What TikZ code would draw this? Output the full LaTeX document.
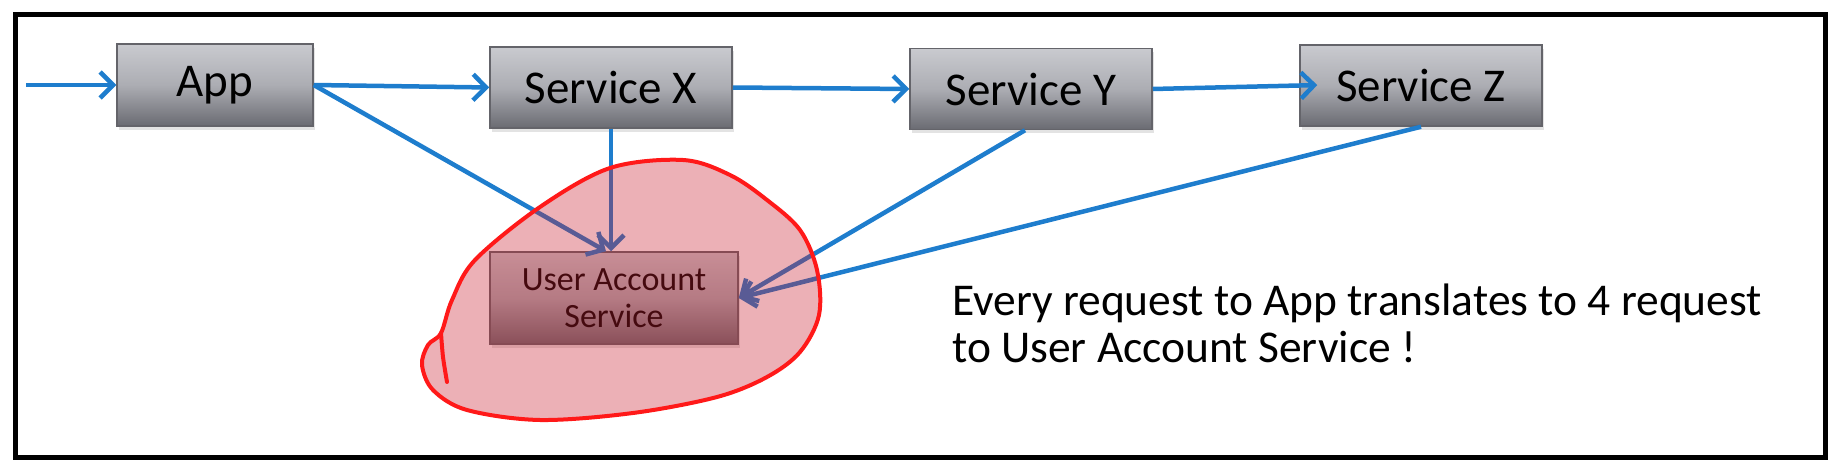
\documentclass[tikz,border=0pt]{standalone}
\usepackage{fontspec}
\setmainfont{Carlito}
\usepackage{tikz}
\usetikzlibrary{arrows.meta,shadows}

\definecolor{linkblue}{RGB}{30,125,205}
\definecolor{boxtop}{RGB}{201,202,207}
\definecolor{boxmid}{RGB}{172,173,179}
\definecolor{boxbot}{RGB}{106,107,114}
\definecolor{boxline}{RGB}{100,100,106}
\definecolor{blobfill}{RGB}{200,30,45}
\definecolor{blobline}{RGB}{255,25,25}

\begin{document}
\begin{tikzpicture}[x=1pt, y=-1pt,
		svcbox/.style={rectangle, draw=boxline, line width=1.5pt, inner sep=0pt,
			top color=boxtop, bottom color=boxbot, middle color=boxmid,
			drop shadow={shadow xshift=2pt, shadow yshift=-4pt, opacity=0.22},
			font=\fontsize{47}{47}\selectfont, minimum width=242pt, minimum height=81pt},
		conn/.style={linkblue, line width=4.5pt,
			-{Straight Barb[length=13pt, width=26pt, line width=4.5pt]}},
		blob/.style={draw=blobline, line width=4pt, fill=blobfill, fill opacity=0.35,
			line join=round, line cap=round}]
			\useasboundingbox (0,0) rectangle (1838,476);
			\draw[line width=5pt] (15,15) rectangle (1825,457);

			\begin{scope}
				\coordinate (src) at (26,85);
				\node[svcbox, minimum width=196pt, minimum height=82pt] (app) at (215,85) {App};
				\node[svcbox] (svcx) at (611,87.5) {Service X};
				\node[svcbox] (svcy) at (1031,89) {Service Y};
				\node[svcbox] (svcz) at (1421,85.5) {Service Z};
				\node[svcbox, minimum width=248pt, minimum height=92pt, align=center,
					font=\fontsize{34}{37}\selectfont] (uas) at (614,298) {User Account\\Service};

				\draw[conn] (src) -- (app.west); % da fuori a App
				\draw[conn] (app.east) -- ([xshift=-8pt]uas.north); % da App a UAS
				\draw[conn] (app.east) -- (svcx.west); % da App a X
				\draw[conn] (svcx.south) -- (svcx.south |- uas.north); % da X a UAS
				\draw[conn] (svcx.east) -- (svcy.west); % da X a Y
				\draw[conn, shorten >=-18pt] (svcy.east) -- (svcz.west); % da Y a Z
				\draw[conn] ([xshift=-6pt]svcy.south) -- (uas.east); % da Y a UAS
				\draw[conn] (svcz.south) -- (uas.east); % da Z a UAS
			\end{scope}

			% cerchio a mano
			\draw[blob] plot[smooth cycle, tension=0.55] coordinates {(540,207) (610,168)
				(683,160) (730,175) (767,200) (800,230) (817,270)
				(819,315) (800,352) (767,377) (717,397) (633,413) (540,420) (467,410)
				(433,390) (422,365) (428,345) (441,333) (452,300) (475,260)};
			\draw[blobline, line width=4pt, line cap=round] plot[smooth] coordinates {(441,333) (443,357) (447,382)};

			\node[anchor=base west, align=left, inner sep=0pt,
				font=\fontsize{45.5}{47}\selectfont] (note) at (952,362)
				{Every request to App translates to 4 request\\to User Account Service !};
\end{tikzpicture}
\end{document}
